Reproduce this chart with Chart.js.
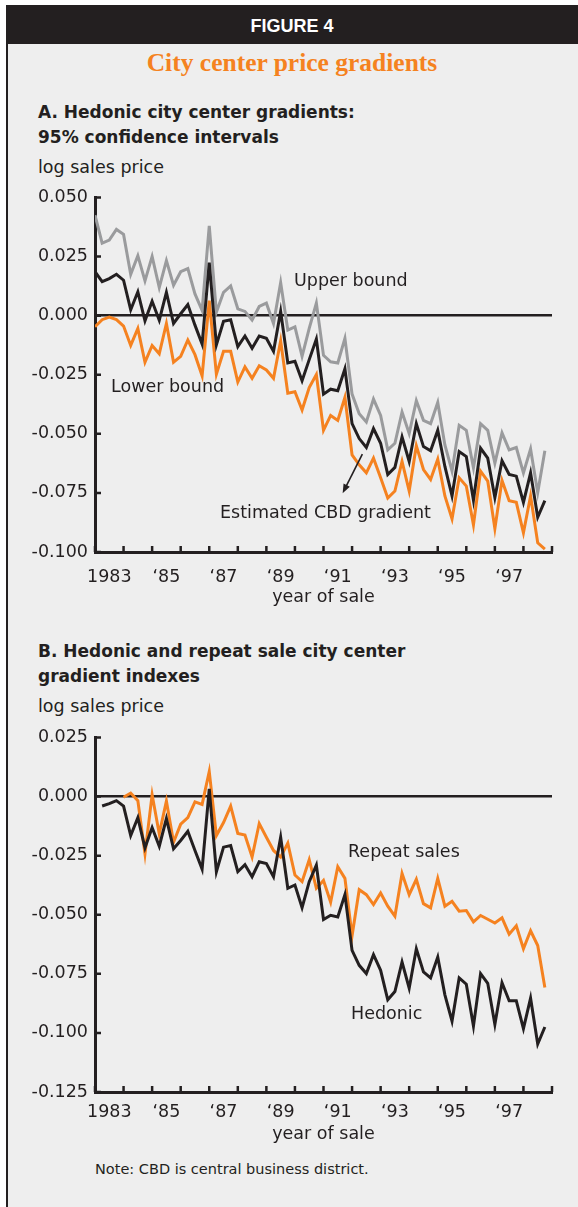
<!DOCTYPE html>
<html>
<head>
<meta charset="utf-8">
<script src="https://cdn.jsdelivr.net/npm/chart.js@4.4.1/dist/chart.umd.min.js"></script>
<style>
  html, body { margin: 0; padding: 0; background: #fff; }
  #page { position: relative; width: 578px; height: 1207px; overflow: hidden; background: #fff; }
  #frame { position: absolute; left: 6px; top: 5px; right: 0; bottom: 0; background: #eeeeee; border-left: 2px solid #231f20; }
  #bar { position: absolute; left: 6px; top: 5px; right: 0; height: 39px; background: #231f20; color: #fff;
         font: bold 18px "Liberation Sans", Arial, sans-serif; text-align: center; line-height: 42px; }
  #title { position: absolute; left: 6px; right: 0; top: 49px; text-align: center; color: #f58220;
           font: bold 25.5px "Liberation Serif", "Times New Roman", serif; line-height: 28px; }
  .txt { position: absolute; white-space: nowrap; color: #231f20; font-family: "DejaVu Sans", sans-serif; font-size: 17.5px; line-height: 1; }
  .head { font-weight: bold; font-size: 17px; }
  canvas { position: absolute; left: 0; }
</style>
</head>
<body>
<div id="page">
  <div id="frame"></div>
  <div id="bar">FIGURE 4</div>
  <div id="title">City center price gradients</div>

  <div class="txt head" style="left:38px; top:104px;">A. Hedonic city center gradients:</div>
  <div class="txt head" style="left:38px; top:129px;">95% confidence intervals</div>
  <div class="txt" style="left:38px; top:159px;">log sales price</div>

  <div class="txt head" style="left:38px; top:643px;">B. Hedonic and repeat sale city center</div>
  <div class="txt head" style="left:38px; top:668px;">gradient indexes</div>
  <div class="txt" style="left:38px; top:698px;">log sales price</div>

  <canvas id="chartA" width="578" height="440" style="top:180px;"></canvas>
  <canvas id="chartB" width="578" height="440" style="top:720px;"></canvas>

  <div class="txt" style="left:294px; top:272px;">Upper bound</div>
  <div class="txt" style="left:111px; top:378px;">Lower bound</div>
  <div class="txt" style="left:220px; top:504px;">Estimated CBD gradient</div>
  <div class="txt" style="left:348px; top:843px;">Repeat sales</div>
  <div class="txt" style="left:351px; top:1005px;">Hedonic</div>

  <div class="txt" style="left:95px; top:1162px; font-size:14.5px;">Note: CBD is central business district.</div>
</div>

<script>
// quarters 1983Q1 .. 1998Q4 as decimal years
const quarters = [];
for (let yr = 1983; yr <= 1998; yr++) {
    for (let q = 0; q < 4; q++) quarters.push(yr + q / 4);
}
const yearMarks = [1983, 1984, 1985, 1986, 1987, 1988, 1989, 1990, 1991, 1992, 1993, 1994, 1995, 1996, 1997, 1998, 1999];
const labelYears = [1983, 1985, 1987, 1989, 1991, 1993, 1995, 1997];
const yearLabels = ['1983', '\u201885', '\u201887', '\u201889', '\u201891', '\u201893', '\u201895', '\u201897'];

const yTicksA = [0.05, 0.025, 0, -0.025, -0.05, -0.075, -0.1];
const yTicksB = [0.025, 0, -0.025, -0.05, -0.075, -0.1, -0.125];

// Panel A
const upperBound = [
    0.0425, 0.0307, 0.0320, 0.0365, 0.0344, 0.0175, 0.0254, 0.0147,
    0.0251, 0.0119, 0.0233, 0.0129, 0.0186, 0.0199, 0.0092, 0.0022,
    0.0380, 0.0015, 0.0099, 0.0126, 0.0029, 0.0018, -0.0019, 0.0039,
    0.0053, -0.0033, 0.0140, -0.0061, -0.0047, -0.0172, -0.0054, 0.0053,
    -0.0168, -0.0195, -0.0200, -0.0096, -0.0332, -0.0415, -0.0450, -0.0353,
    -0.0422, -0.0568, -0.0540, -0.0408, -0.0499, -0.0360, -0.0443, -0.0457,
    -0.0367, -0.0547, -0.0658, -0.0464, -0.0485, -0.0644, -0.0457, -0.0485,
    -0.0624, -0.0496, -0.0568, -0.0558, -0.0665, -0.0564, -0.0749, -0.0572
];
const estimated = [
    0.0186, 0.0144, 0.0157, 0.0175, 0.0150, 0.0025, 0.0101, -0.0022,
    0.0061, -0.0019, 0.0099, -0.0033, 0.0008, 0.0047, -0.0040, -0.0120,
    0.0224, -0.0124, -0.0024, -0.0017, -0.0131, -0.0086, -0.0138, -0.0086,
    -0.0096, -0.0151, 0.0018, -0.0200, -0.0193, -0.0275, -0.0186, -0.0099,
    -0.0332, -0.0311, -0.0318, -0.0225, -0.0457, -0.0520, -0.0558, -0.0478,
    -0.0540, -0.0672, -0.0642, -0.0513, -0.0617, -0.0457, -0.0554, -0.0572,
    -0.0485, -0.0638, -0.0763, -0.0575, -0.0596, -0.0781, -0.0561, -0.0603,
    -0.0770, -0.0614, -0.0672, -0.0679, -0.0790, -0.0665, -0.0853, -0.0783
];
const lowerBound = [
    -0.0047, -0.0017, -0.0006, -0.0017, -0.0044, -0.0126, -0.0054, -0.0197,
    -0.0126, -0.0161, -0.0033, -0.0197, -0.0172, -0.0103, -0.0165, -0.0255,
    0.0064, -0.0248, -0.0151, -0.0151, -0.0281, -0.0217, -0.0265, -0.0212,
    -0.0230, -0.0265, -0.0106, -0.0328, -0.0322, -0.0399, -0.0304, -0.0249,
    -0.0485, -0.0422, -0.0443, -0.0346, -0.0589, -0.0631, -0.0665, -0.0603,
    -0.0686, -0.0772, -0.0742, -0.0617, -0.0742, -0.0550, -0.0651, -0.0693,
    -0.0607, -0.0763, -0.0860, -0.0686, -0.0721, -0.0885, -0.0658, -0.0700,
    -0.0901, -0.0697, -0.0783, -0.0790, -0.0919, -0.0763, -0.0961, -0.0988
];

// Panel B
const hedonicIndex = [
    null, -0.0040, -0.0030, -0.0017, -0.0040, -0.0165, -0.0089, -0.0217,
    -0.0131, -0.0210, -0.0093, -0.0221, -0.0186, -0.0147, -0.0228, -0.0307,
    0.0033, -0.0318, -0.0214, -0.0207, -0.0318, -0.0288, -0.0339, -0.0276,
    -0.0283, -0.0339, -0.0172, -0.0388, -0.0374, -0.0470, -0.0360, -0.0290,
    -0.0520, -0.0502, -0.0509, -0.0415, -0.0651, -0.0714, -0.0749, -0.0669,
    -0.0735, -0.0860, -0.0825, -0.0700, -0.0811, -0.0644, -0.0742, -0.0767,
    -0.0679, -0.0839, -0.0950, -0.0767, -0.0794, -0.0971, -0.0749, -0.0790,
    -0.0964, -0.0788, -0.0864, -0.0864, -0.0982, -0.0853, -0.1047, -0.0975
];
const repeatSales = [
    null, null, null, null, -0.0003, 0.0015, -0.0017, -0.0242,
    0.0008, -0.0158, -0.0019, -0.0193, -0.0117, -0.0089, -0.0022, -0.0033,
    0.0106, -0.0165, -0.0110, -0.0040, -0.0156, -0.0163, -0.0256, -0.0114,
    -0.0172, -0.0228, -0.0256, -0.0197, -0.0332, -0.0360, -0.0267, -0.0388,
    -0.0355, -0.0447, -0.0297, -0.0346, -0.0589, -0.0394, -0.0415, -0.0457,
    -0.0408, -0.0464, -0.0506, -0.0325, -0.0415, -0.0350, -0.0453, -0.0471,
    -0.0346, -0.0464, -0.0443, -0.0485, -0.0482, -0.0530, -0.0503, -0.0519,
    -0.0535, -0.0513, -0.0582, -0.0547, -0.0644, -0.0568, -0.0630, -0.0808
];

// arrow pointing at the estimated gradient (data coords)
const arrowFrom = [1992.36, -0.0586];
const arrowTo = [1991.67, -0.0751];

const ink = '#231f20';
const orange = '#f58220';
const grey = '#9a9b9d';
const tickFont = { family: 'DejaVu Sans', size: 17.5 };

function toPoints(values) {
    return values.map((v, i) => ({ x: quarters[i], y: v }));
}

// tick marks pointing into the plot //
const inwardTicks = {
    id: 'inwardTicks',
    afterDraw(chart) {
        const { ctx, scales: { x, y } } = chart;
        ctx.save();
        ctx.strokeStyle = ink;
        ctx.lineWidth = 2.5;
        ctx.beginPath();
        yearMarks.forEach(yr => {
            const px = x.getPixelForValue(yr);
            ctx.moveTo(px, y.bottom);
            ctx.lineTo(px, y.bottom - 6);
        });
        y.ticks.forEach(t => {
            const py = y.getPixelForValue(t.value);
            ctx.moveTo(x.left, py);
            ctx.lineTo(x.left + 6, py);
        });
        ctx.stroke();
        ctx.restore();
    }
};

const cbdArrow = {
    id: 'cbdArrow',
    afterDatasetsDraw(chart) {
        const { ctx, scales: { x, y } } = chart;
        const x1 = x.getPixelForValue(arrowFrom[0]), y1 = y.getPixelForValue(arrowFrom[1]);
        const x2 = x.getPixelForValue(arrowTo[0]), y2 = y.getPixelForValue(arrowTo[1]);
        const a = Math.atan2(y2 - y1, x2 - x1);
        const c = Math.cos(a), s = Math.sin(a);
        ctx.save();
        ctx.strokeStyle = ink;
        ctx.fillStyle = ink;
        ctx.lineWidth = 1.6;
        ctx.beginPath();
        ctx.moveTo(x1, y1);
        ctx.lineTo(x2 - 6 * c, y2 - 6 * s);
        ctx.stroke();
        ctx.beginPath();
        ctx.moveTo(x2, y2);
        ctx.lineTo(x2 - 9 * c + 3.5 * s, y2 - 9 * s - 3.5 * c);
        ctx.lineTo(x2 - 9 * c - 3.5 * s, y2 - 9 * s + 3.5 * c);
        ctx.closePath();
        ctx.fill();
        ctx.restore();
    }
};

function panelOptions(yTicks, labelPad, titlePad) {
    return {
        responsive: false,
        animation: false,
        layout: { padding: { left: 0, top: 12, right: 26, bottom: 0 } },
        plugins: { legend: { display: false }, tooltip: { enabled: false } },
        elements: { point: { radius: 0 }, line: { borderWidth: 3, tension: 0 } },
        scales: {
            x: {
                type: 'linear',
                min: 1983,
                max: 1999,
                afterBuildTicks: scale => { scale.ticks = labelYears.map(v => ({ value: v + 0.5 })); },
                afterFit: scale => { scale.height = 68; },
                ticks: {
                    autoSkip: false,
                    maxRotation: 0,
                    padding: labelPad,
                    color: ink,
                    font: tickFont,
                    callback: (v, i) => yearLabels[i]
                },
                grid: { display: false, drawTicks: false },
                border: { display: true, color: ink, width: 3 },
                title: {
                    display: true,
                    text: 'year of sale',
                    color: ink,
                    font: tickFont,
                    padding: { top: 0, bottom: titlePad }
                }
            },
            y: {
                min: yTicks[yTicks.length - 1],
                max: yTicks[0],
                afterBuildTicks: scale => { scale.ticks = yTicks.map(v => ({ value: v })); },
                afterFit: scale => { scale.width = 95; },
                ticks: {
                    padding: 7,
                    color: ink,
                    font: tickFont,
                    callback: v => v.toFixed(3)
                },
                grid: {
                    drawTicks: false,
                    color: c => (c.tick && c.tick.value === 0 ? ink : 'rgba(0,0,0,0)'),
                    lineWidth: 2.5
                },
                border: { display: true, color: ink, width: 3 }
            }
        }
    };
}

// Panel A chart //
new Chart(document.getElementById('chartA').getContext('2d'), {
    type: 'line',
    data: {
        datasets: [
            { label: 'Estimated CBD gradient', data: toPoints(estimated), borderColor: ink },
            { label: 'Lower bound', data: toPoints(lowerBound), borderColor: orange },
            { label: 'Upper bound', data: toPoints(upperBound), borderColor: grey }
        ]
    },
    options: panelOptions(yTicksA, 15, 12),
    plugins: [inwardTicks, cbdArrow]
});

// Panel B chart //
new Chart(document.getElementById('chartB').getContext('2d'), {
    type: 'line',
    data: {
        datasets: [
            { label: 'Hedonic', data: toPoints(hedonicIndex), borderColor: ink },
            { label: 'Repeat sales', data: toPoints(repeatSales), borderColor: orange }
        ]
    },
    options: panelOptions(yTicksB, 10, 15),
    plugins: [inwardTicks]
});
</script>
</body>
</html>
